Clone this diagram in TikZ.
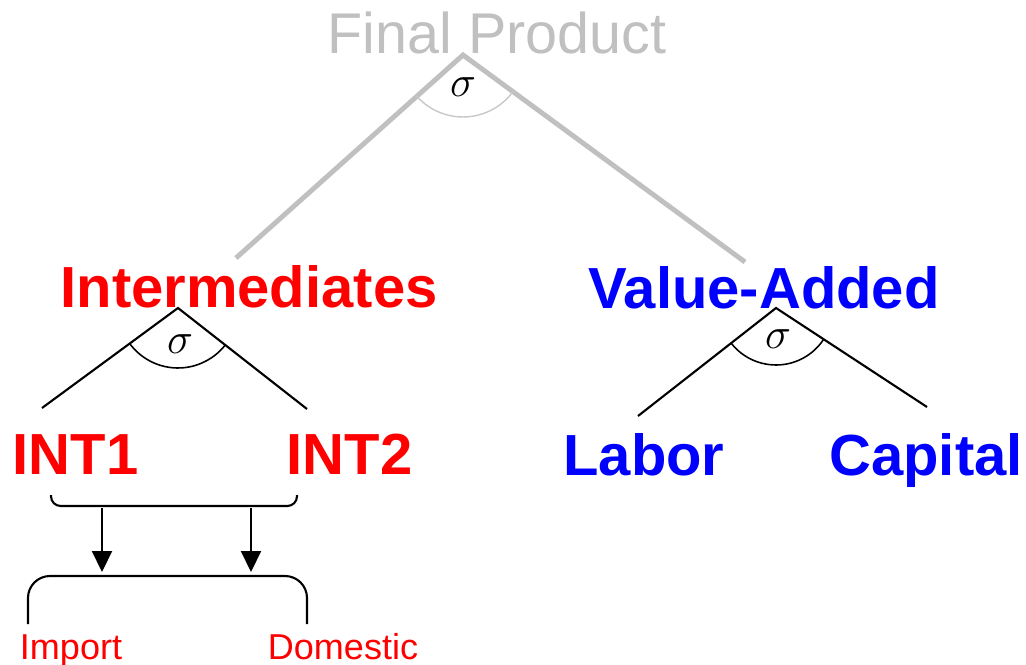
\documentclass[tikz,border=0pt]{standalone}
\usepackage{fontspec}
\setmainfont{Liberation Sans}
\usetikzlibrary{arrows.meta}
\definecolor{topgray}{HTML}{C0C0C0}
\definecolor{arcgray}{HTML}{C8C8C8}
\definecolor{intred}{HTML}{FF0000}
\definecolor{vablue}{HTML}{0000FF}

\begin{document}
\begin{tikzpicture}[x=0.02cm, y=0.02cm,
  biglbl/.style={anchor=base, inner sep=0pt, font=\fontsize{33}{40}\selectfont\bfseries},
  smalllbl/.style={anchor=base, inner sep=0pt, text=intred, font=\fontsize{20.5}{24}\selectfont},
  branch/.style={line width=1.2pt},
  sig/.style={inner sep=0pt, font=\fontsize{27}{32}\selectfont}]
\useasboundingbox (0,0) rectangle (1026,664);

% Top nest
\node[anchor=base, inner sep=0pt, text=topgray, font=\fontsize{32.7}{40}\selectfont] (fp) at (497,611) {Final Product};
\coordinate (fptop) at (463,609);
\coordinate (fpl) at (236,406);
\coordinate (fpr) at (745,402);
\draw[topgray, line width=2.8pt] (fpl) -- (fptop) -- (fpr);
\draw[arcgray, line width=0.8pt] (fptop) ++(221.8:1.24cm) arc[start angle=221.8, end angle=323.7, radius=1.24cm];
\node[sig] (sfp) at (463,577) {$\sigma$};

% Intermediates nest
\node[biglbl, text=intred] (int) at (249,357) {Intermediates};
\coordinate (inttop) at (178,356);
\coordinate (intl) at (42,256);
\coordinate (intr) at (307,255);
\draw[branch] (intl) -- (inttop) -- (intr);
\draw[line width=0.9pt] (inttop) ++(216.3:1.2cm) arc[start angle=216.3, end angle=321.9, radius=1.2cm];
\node[sig] (sint) at (180,320) {$\sigma$};

% Value-added nest
\node[biglbl, text=vablue] (va) at (764,356) {Value-Added};
\coordinate (vatop) at (776,356);
\coordinate (val) at (638,248);
\coordinate (var) at (927,257);
\draw[branch] (val) -- (vatop) -- (var);
\draw[line width=0.9pt] (vatop) ++(218:1.14cm) arc[start angle=218, end angle=326.8, radius=1.14cm];
\node[sig] (sva) at (778,325) {$\sigma$};

% Leaves
\node[biglbl, text=intred] (int1) at (75.5,190) {INT1};
\node[biglbl, text=intred] (int2) at (349.5,190) {INT2};
\node[biglbl, text=vablue] (lab) at (644,189) {Labor};
\node[biglbl, text=vablue] (cap) at (926,189) {Capital};

% Armington split
\draw[branch, rounded corners=5.5pt] (51,169) -- (51,158) -- (297,158) -- (297,169);
\coordinate (a1s) at (102,156);
\coordinate (a1e) at (102,92);
\coordinate (a2s) at (251,156);
\coordinate (a2e) at (251,92);
\draw[-{Triangle[length=4.2mm, width=4mm]}, branch] (a1s) -- (a1e);
\draw[-{Triangle[length=4.2mm, width=4mm]}, branch] (a2s) -- (a2e);
\draw[branch, rounded corners=12.5pt] (28,40) -- (28,88) -- (307,88) -- (307,40);

\node[smalllbl] (imp) at (71,5) {Import};
\node[smalllbl] (dom) at (343,5) {Domestic};
\end{tikzpicture}
\end{document}
